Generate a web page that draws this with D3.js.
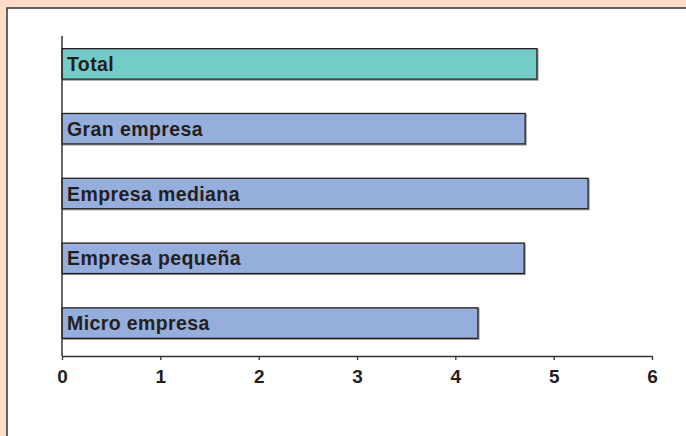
<!DOCTYPE html>
<html><head><meta charset="utf-8">
<script src="https://cdn.jsdelivr.net/npm/d3@7"></script>
<style>html,body{margin:0;padding:0;background:#FFDCC8;}svg{display:block;}</style>
</head><body>
<script>
const categories = ["Total","Gran empresa","Empresa mediana","Empresa pequeña","Micro empresa"];
const values = [4.83, 4.71, 5.35, 4.70, 4.23];
const barColors = ["#74CCC8","#96AEDB","#96AEDB","#96AEDB","#96AEDB"];
const xTicks = [0,1,2,3,4,5,6];

const W = 686, H = 436;
const svg = d3.select("body").append("svg").attr("width", W).attr("height", H);
svg.append("rect").attr("width", W).attr("height", H).attr("fill", "#FFDCC8");
svg.append("rect").attr("x", 7).attr("y", 8).attr("width", W).attr("height", H)
  .attr("fill", "#fff").attr("stroke", "#333").attr("stroke-width", 1.5);

const x = d3.scaleLinear().domain([0, 6]).range([62, 652]);
const y = d3.scaleBand().domain(categories).range([31.5, 355.5]).paddingInner(0.53).paddingOuter(0.265);

const g = svg.append("g");
g.selectAll("rect.sh").data(categories).join("rect")
  .attr("x", x(0)+1).attr("y", d => y(d)+1)
  .attr("width", (d,i) => x(values[i]) - x(0)).attr("height", y.bandwidth())
  .attr("fill", "none").attr("stroke", "#999").attr("stroke-width", 1.2);
g.selectAll("rect.bar").data(categories).join("rect").attr("class","bar")
  .attr("x", x(0)).attr("y", d => y(d))
  .attr("width", (d,i) => x(values[i]) - x(0)).attr("height", y.bandwidth())
  .attr("fill", (d,i) => barColors[i]).attr("stroke", "#231F20").attr("stroke-width", 1.3);
g.selectAll("text.lab").data(categories).join("text")
  .attr("x", x(0) + 5).attr("y", d => y(d) + y.bandwidth()/2)
  .attr("dy", "0.36em")
  .attr("font-family", "Liberation Sans, Arial, sans-serif").attr("font-weight", "bold")
  .attr("font-size", 19.5).attr("letter-spacing", 0.4).attr("fill", "#231F20")
  .text(d => d);

svg.append("line").attr("x1", x(0)).attr("x2", x(0)).attr("y1", 36).attr("y2", 356)
  .attr("stroke", "#333").attr("stroke-width", 1.5);
const xa = svg.append("g").attr("transform", "translate(0,356)")
  .call(d3.axisBottom(x).tickValues(xTicks).tickSize(4).tickSizeOuter(0).tickPadding(10).tickFormat(d3.format("d")));
xa.select(".domain").attr("stroke", "#333").attr("stroke-width", 1.5);
xa.selectAll(".tick line").attr("stroke", "#333").attr("stroke-width", 1.3);
xa.selectAll(".tick text").attr("font-family", "Liberation Sans, Arial, sans-serif")
  .attr("font-weight", "bold").attr("font-size", 19).attr("fill", "#231F20");
</script>
</body></html>
